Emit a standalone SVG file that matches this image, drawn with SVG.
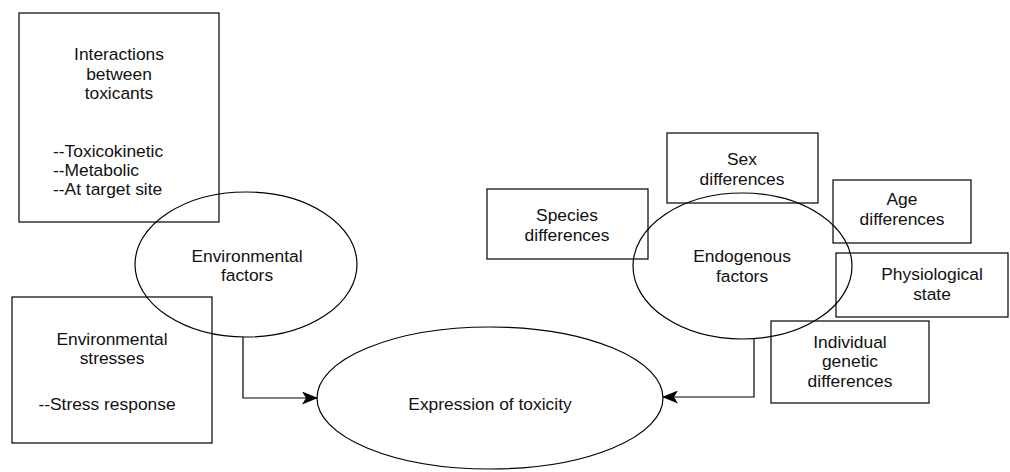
<svg xmlns="http://www.w3.org/2000/svg" width="1010" height="472" viewBox="0 0 1010 472">
  <style>
    .shape { fill: none; stroke: #000; stroke-width: 1.2; }
    .label { font-family: "Liberation Sans", Arial, sans-serif; font-size: 17.4px; fill: #111; text-anchor: middle; }
    .left { text-anchor: start; }
    .edge { fill: none; stroke: #000; stroke-width: 1.2; }
  </style>
  <defs>
    <marker id="arrow" viewBox="0 0 16 13" refX="15" refY="6.5" markerWidth="16" markerHeight="13" markerUnits="userSpaceOnUse" orient="auto">
      <path d="M0,0 L16,6.5 L0,13 L4,6.5 Z" fill="#000"/>
    </marker>
  </defs>

  <rect width="1010" height="472" fill="#fff"/>

  <!-- left side: environmental -->
  <g id="interactions">
    <rect class="shape" x="19" y="13" width="200" height="209"/>
    <text class="label" x="119" y="60">Interactions</text>
    <text class="label" x="119" y="80">between</text>
    <text class="label" x="119" y="99">toxicants</text>
    <text class="label left" x="53" y="157">--Toxicokinetic</text>
    <text class="label left" x="53" y="176">--Metabolic</text>
    <text class="label left" x="53" y="195">--At target site</text>
  </g>

  <g id="env-stresses">
    <rect class="shape" x="12" y="297" width="200" height="146"/>
    <text class="label" x="112" y="345">Environmental</text>
    <text class="label" x="112" y="364">stresses</text>
    <text class="label" x="107" y="410">--Stress response</text>
  </g>

  <g id="env-factors">
    <ellipse class="shape" cx="246" cy="264.5" rx="111" ry="72.5"/>
    <text class="label" x="247" y="262">Environmental</text>
    <text class="label" x="247" y="281">factors</text>
  </g>

  <!-- right side: endogenous -->
  <g id="species">
    <rect class="shape" x="487" y="189" width="161" height="70"/>
    <text class="label" x="567" y="221">Species</text>
    <text class="label" x="567" y="241">differences</text>
  </g>

  <g id="sex">
    <rect class="shape" x="667" y="133" width="151" height="70"/>
    <text class="label" x="742" y="165">Sex</text>
    <text class="label" x="742" y="185">differences</text>
  </g>

  <g id="age">
    <rect class="shape" x="833" y="180" width="138" height="63"/>
    <text class="label" x="902" y="205">Age</text>
    <text class="label" x="902" y="225">differences</text>
  </g>

  <g id="physiological">
    <rect class="shape" x="836" y="253" width="172" height="64"/>
    <text class="label" x="932" y="280">Physiological</text>
    <text class="label" x="932" y="300">state</text>
  </g>

  <g id="genetic">
    <rect class="shape" x="771" y="321" width="158" height="82"/>
    <text class="label" x="850" y="348">Individual</text>
    <text class="label" x="850" y="367">genetic</text>
    <text class="label" x="850" y="387">differences</text>
  </g>

  <g id="endogenous">
    <ellipse class="shape" cx="742.5" cy="266" rx="109.5" ry="73"/>
    <text class="label" x="742" y="262">Endogenous</text>
    <text class="label" x="742" y="282">factors</text>
  </g>

  <!-- outcome -->
  <g id="toxicity">
    <ellipse class="shape" cx="490" cy="398" rx="173" ry="71"/>
    <text class="label" x="490" y="410">Expression of toxicity</text>
  </g>

  <!-- connectors -->
  <g id="connectors">
    <path class="edge" d="M243,337 V398 H317" marker-end="url(#arrow)"/>
    <path class="edge" d="M754,339 V397 H663" marker-end="url(#arrow)"/>
  </g>
</svg>
